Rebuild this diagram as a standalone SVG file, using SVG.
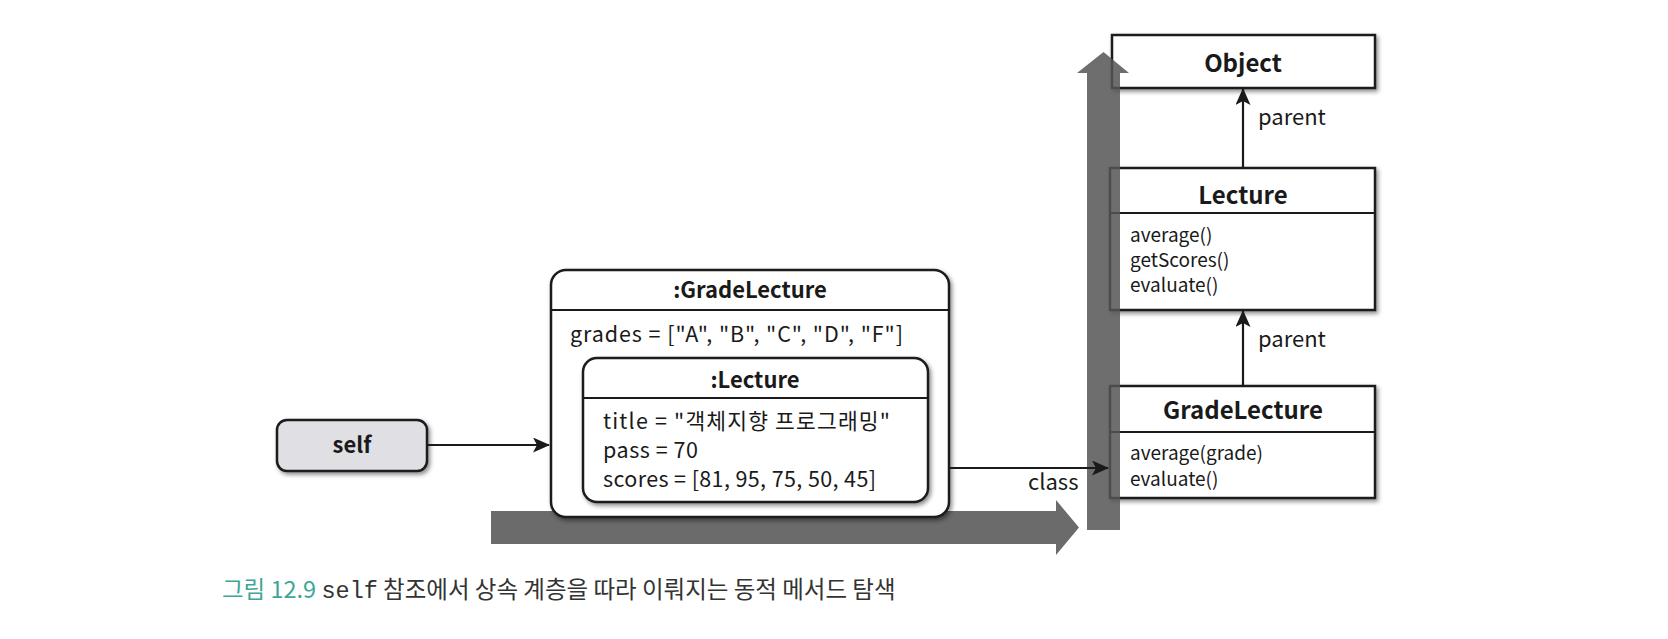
<svg xmlns="http://www.w3.org/2000/svg" width="1668" height="639" viewBox="0 0 1668 639">
<defs>
<filter id="sh" x="-10%" y="-10%" width="125%" height="130%">
<feDropShadow dx="2" dy="2.5" stdDeviation="2" flood-color="#000" flood-opacity="0.45"/>
</filter>
<marker id="ah" markerWidth="17" markerHeight="15" refX="16" refY="7.5" orient="auto" markerUnits="userSpaceOnUse">
<path d="M0,0 L17,7.5 L0,15 L4,7.5 Z" fill="#1a1a1a"/>
</marker>
</defs>
<style>
text{font-family:"Noto Sans CJK KR","Noto Sans",sans-serif;fill:#1a1a1a}
.box{fill:#fff;stroke:#1a1a1a;stroke-width:2.5}
.div{stroke:#1a1a1a;stroke-width:2}
.ttl{font-weight:700;text-anchor:middle}
.attr{font-size:21.5px}
.meth{font-size:19px}
.lbl{font-size:22px}
.conn{stroke:#1a1a1a;stroke-width:2.2;fill:none;marker-end:url(#ah)}
.flow{fill:#6b6b6b}
</style>
<rect width="1668" height="639" fill="#fff"/>

<g id="flow-horizontal">
<path class="flow" d="M491,511 L1056,511 L1056,500 L1079,527.5 L1056,555 L1056,544 L491,544 Z"/>
</g>

<g id="node-self">
<rect x="277" y="420" width="150" height="51" rx="10" fill="#e0e0e4" stroke="#1a1a1a" stroke-width="2.5" filter="url(#sh)"/>
<text x="352" y="453" class="ttl" style="font-size:22px;font-weight:600">self</text>
</g>

<g id="node-gradelecture-object">
<rect class="box" x="551" y="270" width="398" height="247" rx="15" filter="url(#sh)"/>
<line class="div" x1="551" y1="310" x2="949" y2="310"/>
<text x="750" y="298" class="ttl" style="font-size:22px">:GradeLecture</text>
<text x="570" y="342" class="attr" textLength="333" lengthAdjust="spacing">grades = ["A", "B", "C", "D", "F"]</text>
</g>

<g id="node-lecture-object">
<rect class="box" x="583" y="358" width="345" height="144" rx="14" filter="url(#sh)"/>
<line class="div" x1="583" y1="398" x2="928" y2="398"/>
<text x="755" y="388" class="ttl" style="font-size:22px">:Lecture</text>
<text x="603" y="429" class="attr" textLength="287" lengthAdjust="spacing">title = "객체지향 프로그래밍"</text>
<text x="603" y="458" class="attr" textLength="95" lengthAdjust="spacing">pass = 70</text>
<text x="603" y="487" class="attr" textLength="273" lengthAdjust="spacing">scores = [81, 95, 75, 50, 45]</text>
</g>

<g id="node-object-class">
<rect class="box" x="1112" y="35" width="263" height="53" filter="url(#sh)"/>
<text x="1243" y="72" class="ttl" style="font-size:24px">Object</text>
</g>

<g id="node-lecture-class">
<rect class="box" x="1110" y="168" width="265" height="142" filter="url(#sh)"/>
<line class="div" x1="1110" y1="213" x2="1375" y2="213"/>
<text x="1243" y="204" class="ttl" style="font-size:24px">Lecture</text>
<text x="1130" y="242" class="meth">average()</text>
<text x="1130" y="267" class="meth">getScores()</text>
<text x="1130" y="292" class="meth">evaluate()</text>
</g>

<g id="node-gradelecture-class">
<rect class="box" x="1110" y="386" width="265" height="112" filter="url(#sh)"/>
<line class="div" x1="1110" y1="432" x2="1375" y2="432"/>
<text x="1243" y="419" class="ttl" style="font-size:24px">GradeLecture</text>
<text x="1130" y="460" class="meth">average(grade)</text>
<text x="1130" y="486" class="meth">evaluate()</text>
</g>

<g id="flow-vertical" opacity="0.85">
<path fill="#555" d="M1087,530 L1087,73 L1077,73 L1103.5,52 L1129,73 L1120,73 L1120,530 Z"/>
</g>

<g id="connectors">
<line class="conn" x1="427" y1="445" x2="549" y2="445"/>
<line class="conn" x1="949" y1="468" x2="1108" y2="468"/>
<text x="1028" y="490" class="lbl">class</text>
<line class="conn" x1="1243" y1="168" x2="1243" y2="89"/>
<text x="1258" y="125" class="lbl">parent</text>
<line class="conn" x1="1243" y1="386" x2="1243" y2="311"/>
<text x="1258" y="347" class="lbl">parent</text>
</g>

<g id="caption">
<text x="222" y="598" style="font-size:23.5px"><tspan fill="#3fa697">그림 12.9</tspan> <tspan style="font-family:'Liberation Mono','DejaVu Sans Mono',monospace" fill="#333">self</tspan><tspan fill="#333"> 참조에서 상속 계층을 따라 이뤄지는 동적 메서드 탐색</tspan></text>
</g>
</svg>
